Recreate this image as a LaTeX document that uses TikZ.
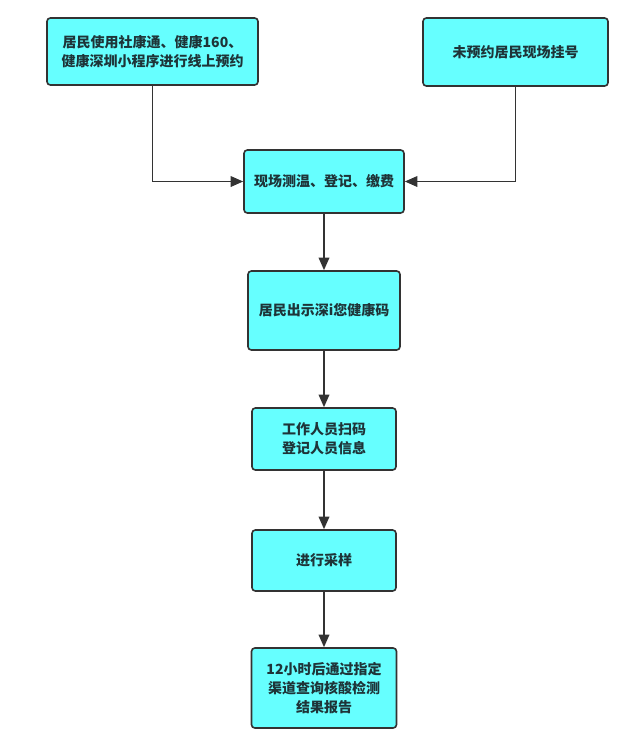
\documentclass[tikz,border=0pt]{standalone}
\usepackage{fontspec}
\newfontfamily\cjk{Noto Sans CJK SC}
\usepackage{tikz}
\usetikzlibrary{arrows.meta}

\definecolor{boxfill}{RGB}{102,255,255}
\definecolor{boxline}{RGB}{51,51,51}
\definecolor{boxtext}{RGB}{30,52,56}

\begin{document}
\begin{tikzpicture}[x=0.75pt, y=-0.75pt,
	stepbox/.style={rectangle, rounded corners=2.5pt, draw=boxline, fill=boxfill, line width=1.2pt, inner sep=0pt, align=center, font=\cjk\bfseries\fontsize{10.5pt}{14.5pt}\selectfont, text=boxtext},
	flow/.style={draw=boxline, line width=1.25pt, -{Triangle[length=9.5pt, width=8pt]}}]
	\useasboundingbox (0, 0) rectangle (640, 746);
	% boxes
	\node[stepbox, minimum width=158.25pt, minimum height=50.25pt] (node0) at (152.5, 51.5) {居民使用社康通、健康160、\\健康深圳小程序进行线上预约};
	\node[stepbox, minimum width=138.75pt, minimum height=51pt] (node1) at (515.5, 52) {未预约居民现场挂号};
	\node[stepbox, minimum width=120pt, minimum height=47.25pt] (node2) at (324, 181.5) {现场测温、登记、缴费};
	\node[stepbox, minimum width=114pt, minimum height=59.25pt] (node3) at (324, 310.5) {居民出示深i您健康码};
	\node[stepbox, minimum width=108pt, minimum height=46.5pt] (node4) at (324, 439) {工作人员扫码\\登记人员信息};
	\node[stepbox, minimum width=108pt, minimum height=45.75pt] (node5) at (324, 560.5) {进行采样};
	\node[stepbox, minimum width=108.75pt, minimum height=60pt] (node6) at (324, 688) {12小时后通过指定\\渠道查询核酸检测\\结果报告};
	% connectors
	\draw[flow] (node0.south) |- (node2.west);
	\draw[flow] (node1.south) |- (node2.east);
	\draw[flow] (node2.south) -- (node3.north);
	\draw[flow] (node3.south) -- (node4.north);
	\draw[flow] (node4.south) -- (node5.north);
	\draw[flow] (node5.south) -- (node6.north);
\end{tikzpicture}
\end{document}
